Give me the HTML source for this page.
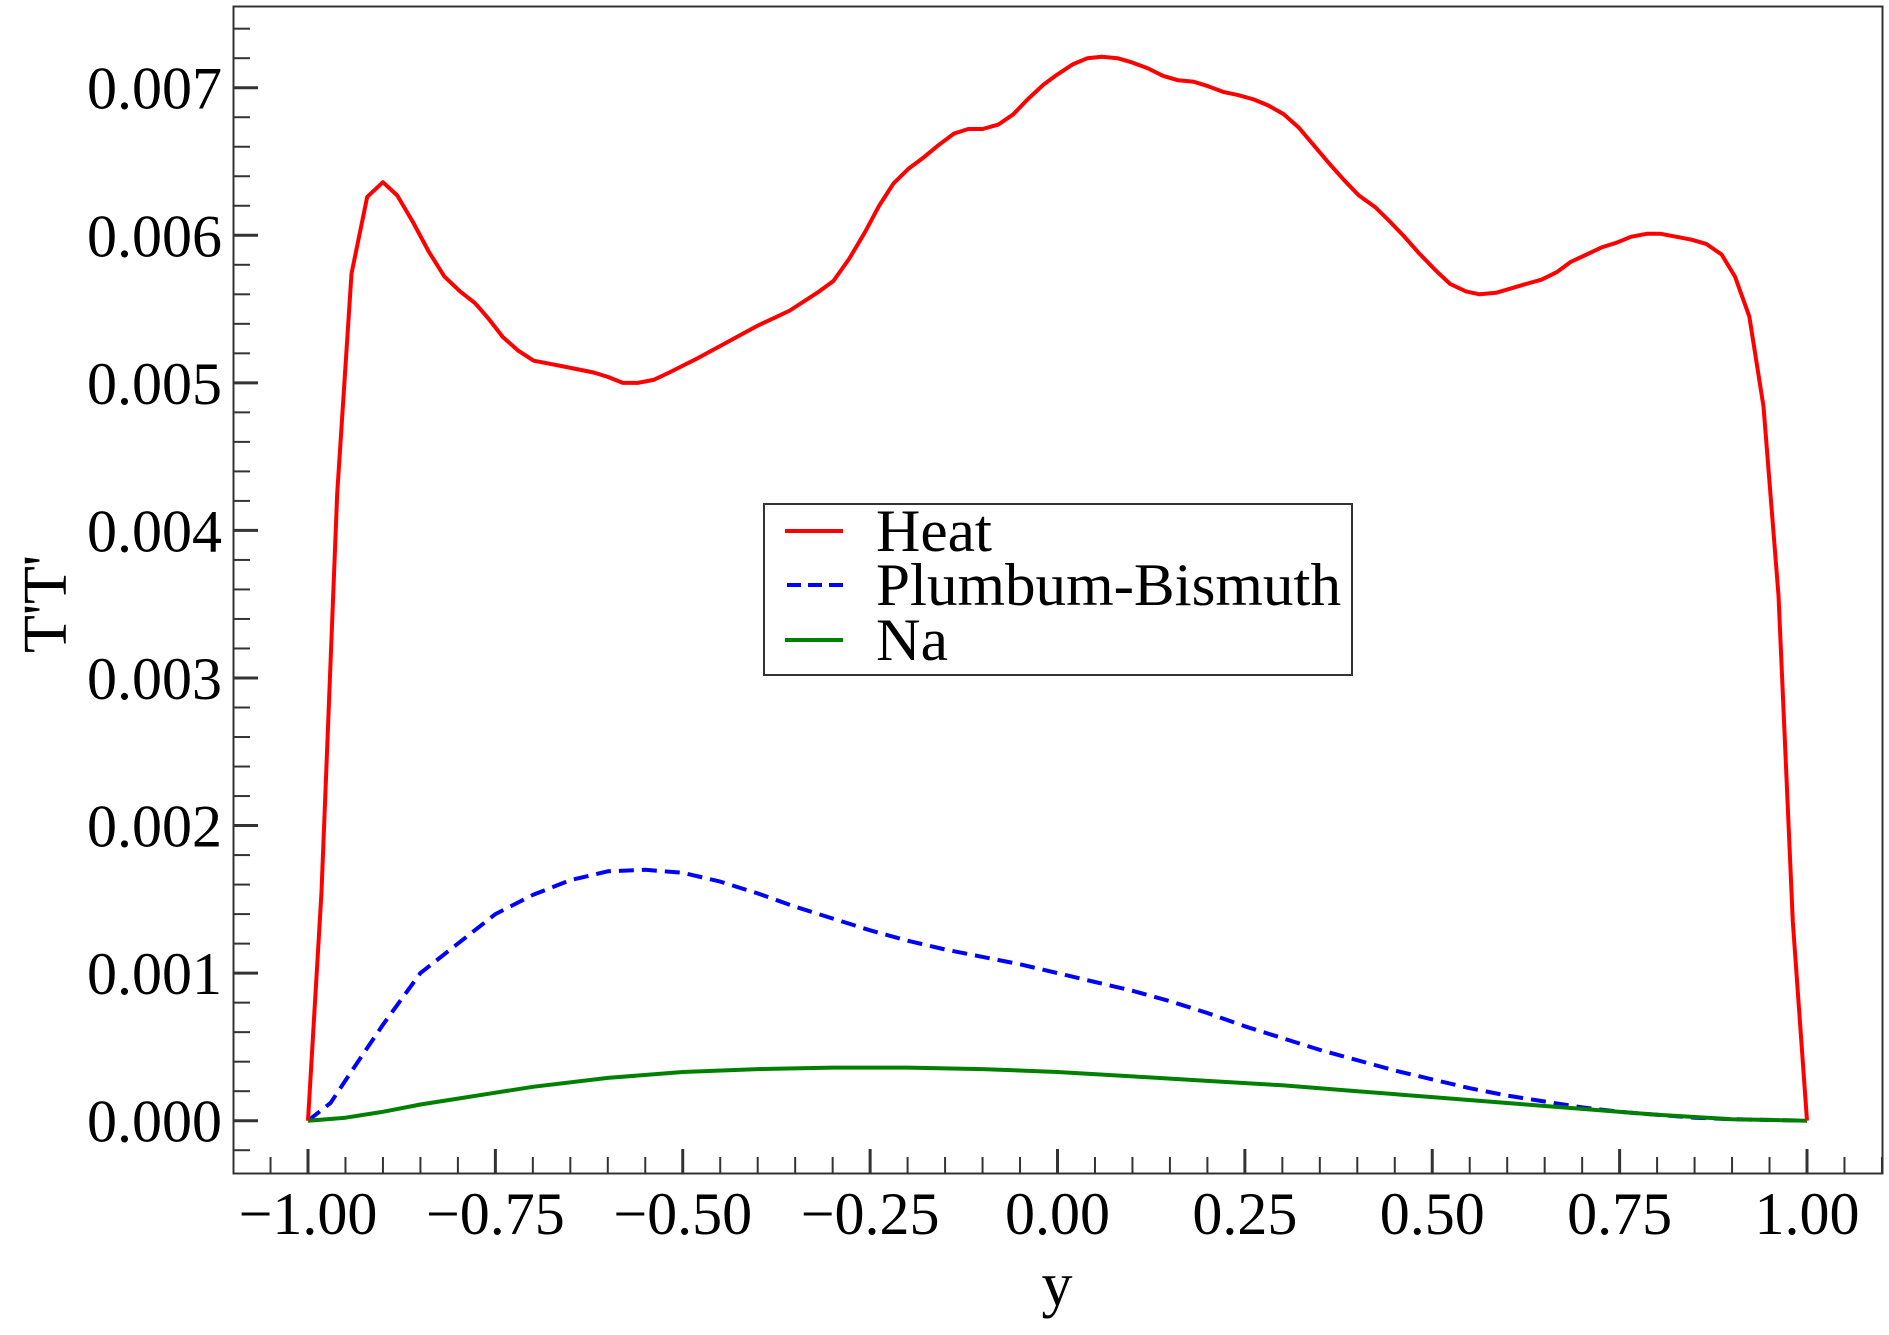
<!DOCTYPE html>
<html><head><meta charset="utf-8"><style>
html,body{margin:0;padding:0;background:#fff;}
svg{display:block;font-family:"Liberation Serif",serif;}
</style></head><body>
<svg id="chart" width="1889" height="1335" viewBox="0 0 1889 1335" xmlns="http://www.w3.org/2000/svg">
<g id="grid-layer"></g>
<g id="series-layer"></g>
<rect x="233.5" y="6.5" width="1649" height="1167" fill="none" stroke="#333" stroke-width="2"/>
<text x="0" y="0" font-size="62" text-anchor="middle" transform="translate(66,604) rotate(-90)">T'T'</text>
<text x="1057" y="1305" font-size="62" text-anchor="middle">y</text>
<g>
<rect x="764" y="504" width="588" height="171" fill="#fff" stroke="#333" stroke-width="2"/>
<line x1="785" y1="531" x2="843" y2="531" stroke="#ff0000" stroke-width="4"/>
<text x="876" y="551" font-size="60" textLength="116" lengthAdjust="spacingAndGlyphs">Heat</text>
<line x1="787" y1="585" x2="843" y2="585" stroke="#0000ff" stroke-width="4" stroke-dasharray="14,7"/>
<text x="876" y="605" font-size="60" textLength="465" lengthAdjust="spacingAndGlyphs">Plumbum-Bismuth</text>
<line x1="785" y1="640" x2="843" y2="640" stroke="#008000" stroke-width="4"/>
<text x="876" y="660" font-size="60" textLength="72" lengthAdjust="spacingAndGlyphs">Na</text>
</g>
</svg>
<script>
const heatX=[-1,-0.982,-0.961,-0.942,-0.921,-0.900,-0.881,-0.860,-0.839,-0.818,-0.797,-0.777,-0.760,-0.740,-0.720,-0.699,-0.678,-0.658,-0.619,-0.600,-0.580,-0.560,-0.539,-0.518,-0.479,-0.439,-0.399,-0.378,-0.357,-0.318,-0.299,-0.278,-0.257,-0.238,-0.219,-0.199,-0.178,-0.159,-0.138,-0.119,-0.100,-0.079,-0.059,-0.040,-0.019,0.000,0.021,0.040,0.059,0.080,0.100,0.121,0.141,0.161,0.182,0.201,0.222,0.241,0.262,0.281,0.302,0.322,0.342,0.362,0.383,0.402,0.424,0.442,0.463,0.482,0.505,0.524,0.545,0.563,0.585,0.605,0.625,0.646,0.666,0.685,0.706,0.727,0.746,0.765,0.786,0.805,0.826,0.846,0.866,0.886,0.904,0.923,0.942,0.962,0.981,1.0];
const heatY=[0,0.00155,0.00425,0.00574,0.00626,0.00636,0.00627,0.00609,0.00589,0.00572,0.00562,0.00554,0.00544,0.00531,0.00522,0.00515,0.00513,0.00511,0.00507,0.00504,0.00500,0.00500,0.00502,0.00507,0.00517,0.00528,0.00539,0.00544,0.00549,0.00562,0.00569,0.00584,0.00602,0.00620,0.00635,0.00645,0.00653,0.00661,0.00669,0.00672,0.00672,0.00675,0.00682,0.00692,0.00702,0.00709,0.00716,0.00720,0.00721,0.00720,0.00717,0.00713,0.00708,0.00705,0.00704,0.00701,0.00697,0.00695,0.00692,0.00688,0.00682,0.00673,0.00661,0.00649,0.00637,0.00627,0.00619,0.00610,0.00599,0.00588,0.00576,0.00567,0.00562,0.00560,0.00561,0.00564,0.00567,0.00570,0.00575,0.00582,0.00587,0.00592,0.00595,0.00599,0.00601,0.00601,0.00599,0.00597,0.00594,0.00587,0.00572,0.00545,0.00484,0.00356,0.00135,0];
const pbX=[-1,-0.97,-0.94,-0.90,-0.85,-0.80,-0.75,-0.70,-0.65,-0.60,-0.55,-0.50,-0.45,-0.40,-0.35,-0.30,-0.25,-0.20,-0.15,-0.10,-0.05,0,0.05,0.10,0.15,0.20,0.25,0.30,0.35,0.40,0.45,0.50,0.55,0.60,0.65,0.70,0.75,0.80,0.85,0.90,1];
const pbY=[0,0.00012,0.00035,0.00065,0.001,0.0012,0.0014,0.00153,0.00163,0.00169,0.0017,0.00168,0.00162,0.00154,0.00145,0.00137,0.00129,0.00122,0.00116,0.00111,0.00106,0.001,0.00094,0.00088,0.00081,0.00073,0.00064,0.00056,0.00048,0.00041,0.00034,0.00028,0.00022,0.00017,0.00013,0.00009,0.00006,0.00004,0.00002,0.00001,0];
const naX=[-1,-0.95,-0.9,-0.85,-0.8,-0.75,-0.7,-0.6,-0.5,-0.4,-0.3,-0.2,-0.1,0,0.1,0.2,0.3,0.4,0.5,0.6,0.7,0.8,0.9,1];
const naY=[0,0.00002,0.00006,0.00011,0.00015,0.00019,0.00023,0.00029,0.00033,0.00035,0.00036,0.00036,0.00035,0.00033,0.0003,0.00027,0.00024,0.0002,0.00016,0.00012,0.00008,0.00004,0.00001,0];
const xTicks=[-1,-0.75,-0.5,-0.25,0,0.25,0.5,0.75,1];
const xTickLabels=["−1.00","−0.75","−0.50","−0.25","0.00","0.25","0.50","0.75","1.00"];
const yTicks=[0,0.001,0.002,0.003,0.004,0.005,0.006,0.007];
const yTickLabels=["0.000","0.001","0.002","0.003","0.004","0.005","0.006","0.007"];

const NS="http://www.w3.org/2000/svg";
const sx=v=>308+(v+1)*749.5;
const sy=v=>1120.7-v*147570;
const axes=document.getElementById('grid-layer');
const ser=document.getElementById('series-layer');
function mk(tag,attrs,parent){const e=document.createElementNS(NS,tag);for(const k in attrs)e.setAttribute(k,attrs[k]);parent.appendChild(e);return e;}
for(let i=-22;i<=22;i++){const v=i*0.05;const x=sx(v);if(x<234||x>1882)continue;
 const major=(i%5===0);
 const t=mk('line',{x1:x,x2:x,y1:1173,y2:major?1149:1157,stroke:'#333','stroke-width':major?3:2},axes);
 
 }
for(let i=-2;i<=39;i++){const v=i*0.0002;const y=sy(v);if(y<7||y>1173)continue;
 const major=(i%5===0);
 const t=mk('line',{x1:234,x2:major?258:250,y1:y,y2:y,stroke:'#333','stroke-width':major?3:2},axes);
 
 }
xTicks.forEach((v,i)=>{const t=mk('text',{x:sx(v),y:1234,'font-size':60,'text-anchor':'middle'},axes);t.textContent=xTickLabels[i];
 
 });
yTicks.forEach((v,i)=>{const t=mk('text',{x:222,y:sy(v)+21,'font-size':60,'text-anchor':'end'},axes);t.textContent=yTickLabels[i];
 
 });
function line(xs,ys,color,dash,name){const d=xs.map((x,i)=>(i?'L':'M')+sx(x).toFixed(1)+','+sy(ys[i]).toFixed(1)).join('');
 const p=mk('path',{d:d,fill:'none',stroke:color,'stroke-width':4,'stroke-linejoin':'round'},ser);
 if(dash)p.setAttribute('stroke-dasharray',dash);
 
 }
line(pbX,pbY,'#0000ff','15,8','line-plumbum-bismuth');
line(naX,naY,'#008000',null,'line-na');
line(heatX,heatY,'#ff0000',null,'line-heat');
</script>
</body></html>
